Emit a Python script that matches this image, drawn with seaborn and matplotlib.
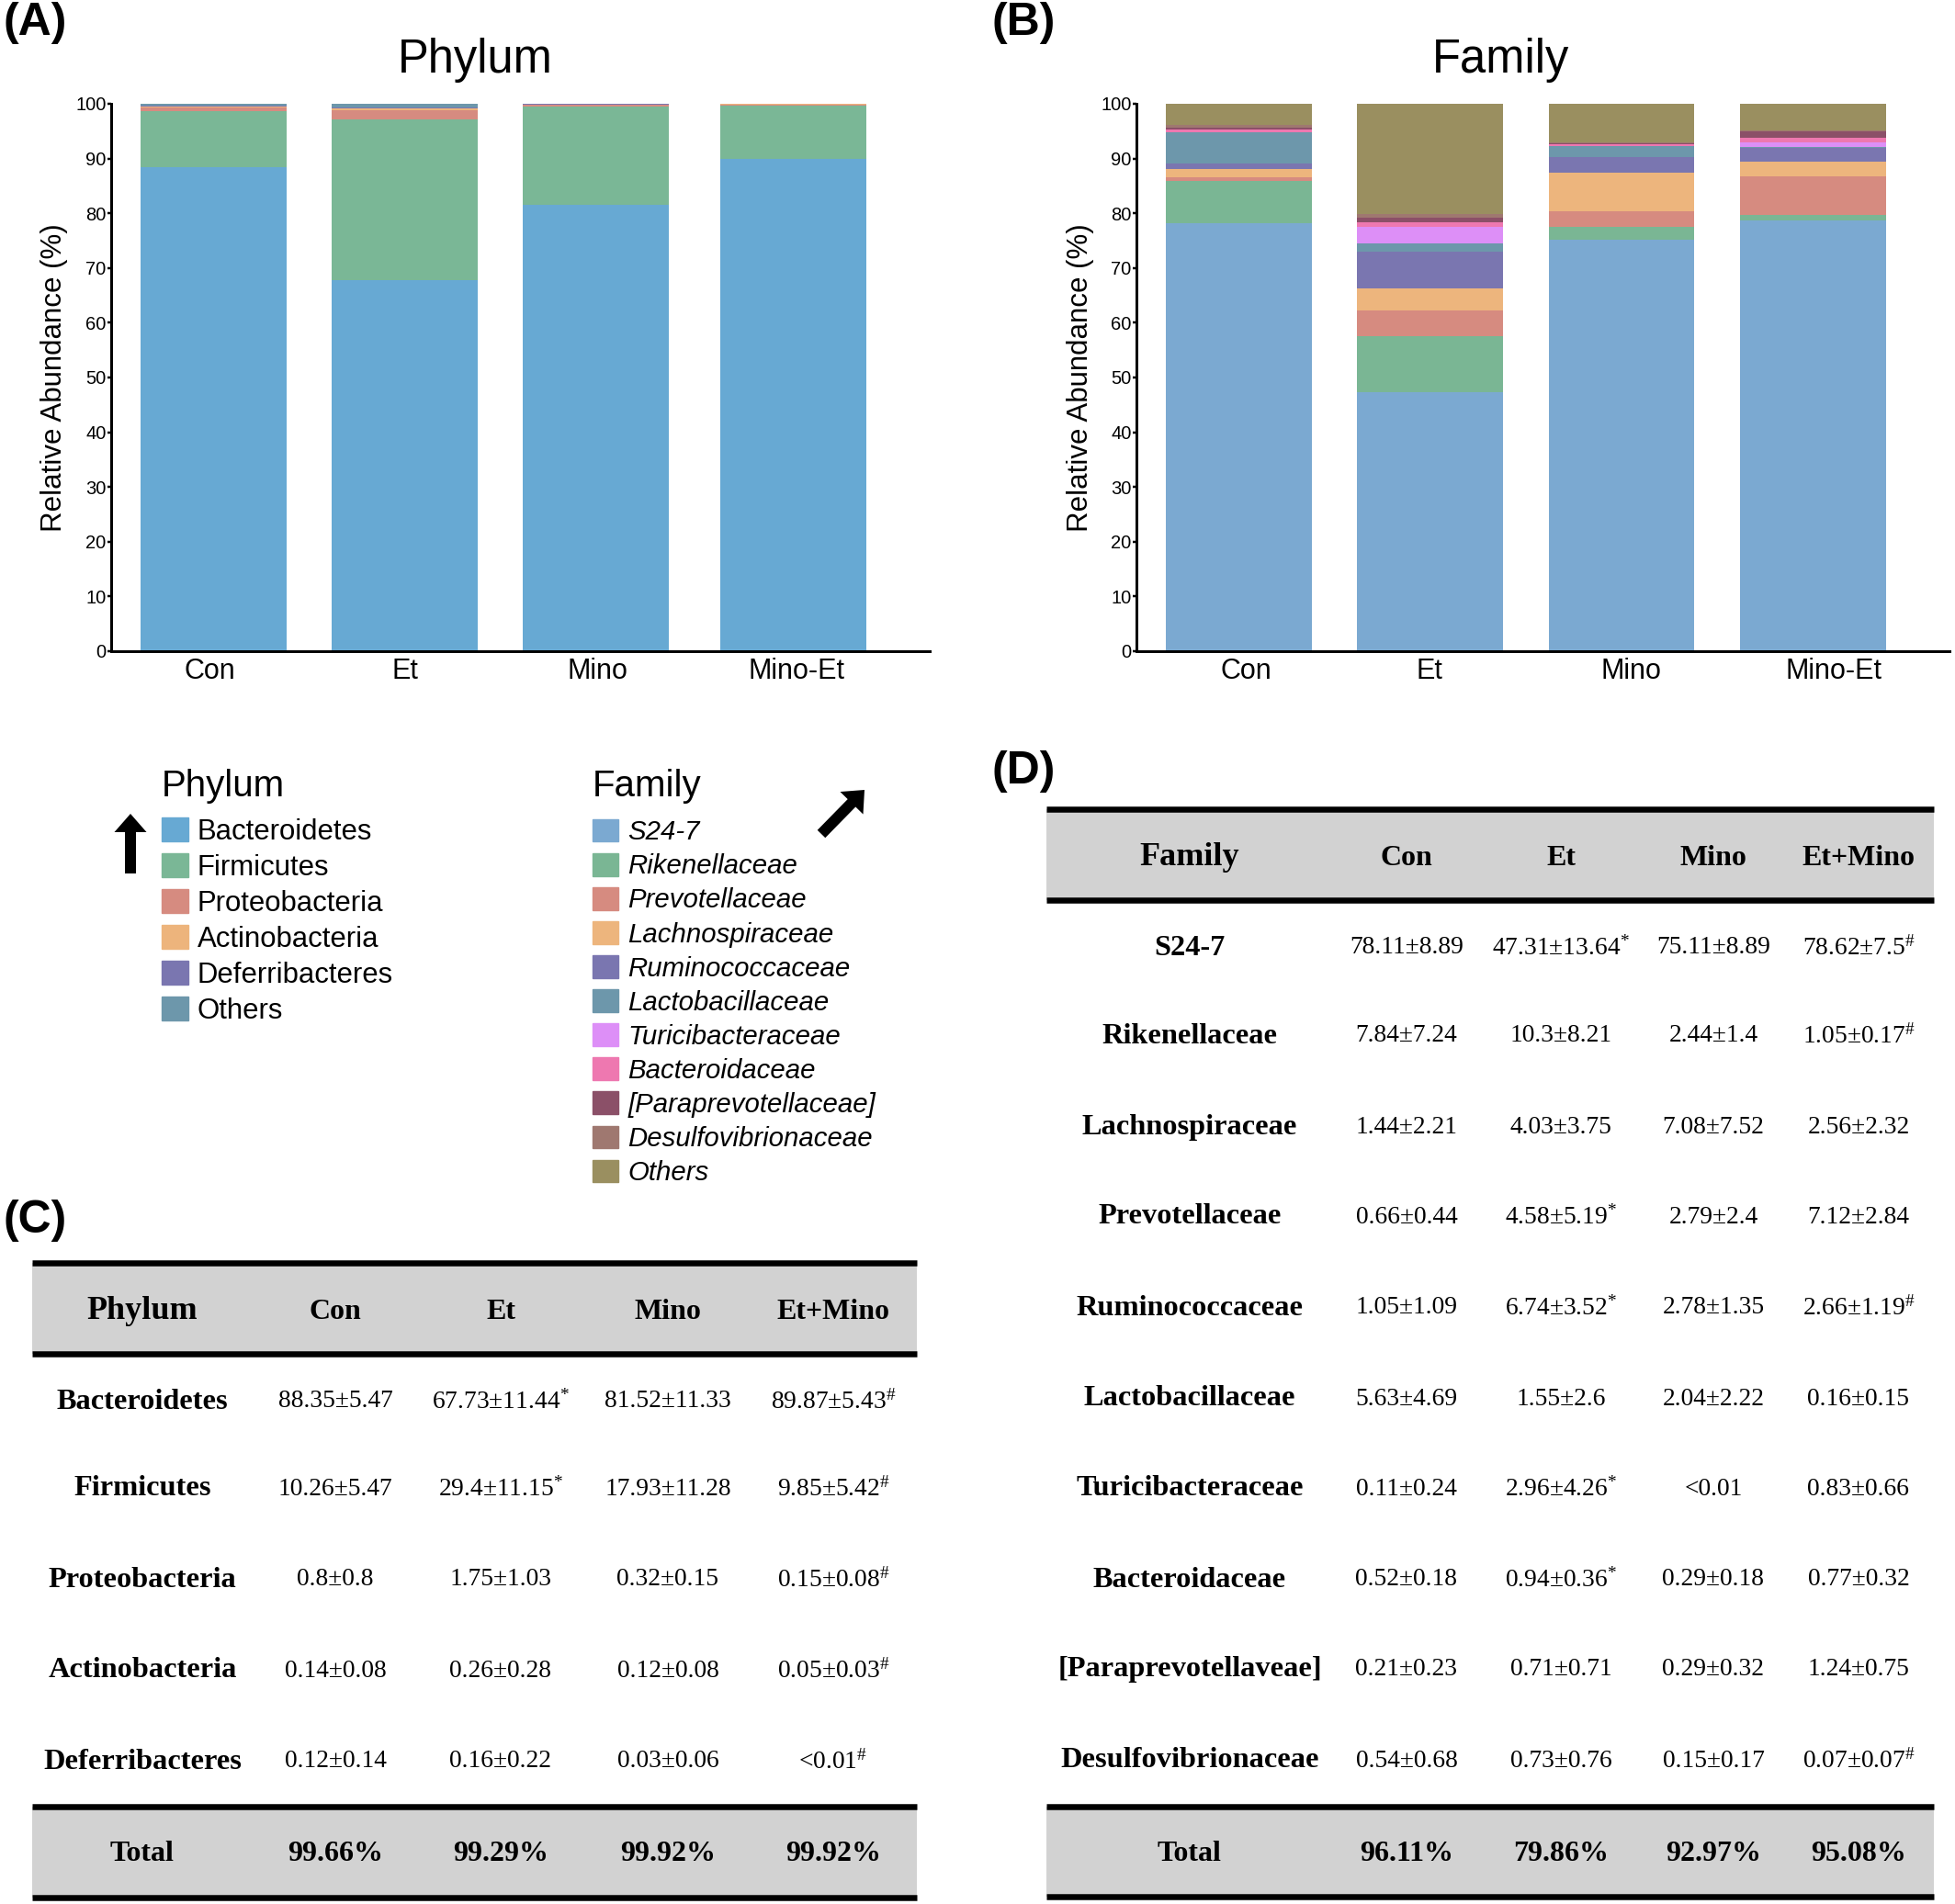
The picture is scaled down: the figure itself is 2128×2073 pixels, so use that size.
"""Phylum and family abundance: stacked bars, legends and the two summary tables."""

import matplotlib
matplotlib.use("Agg")
import matplotlib.pyplot as plt
import numpy as np
import seaborn as sns
from matplotlib.patches import Patch

W, H = 2128, 2073

# Bar groups
groups = ["Con", "Et", "Mino", "Mino-Et"]

# Phylum values (%)
phylum_names = ["Bacteroidetes", "Firmicutes", "Proteobacteria", "Actinobacteria", "Deferribacteres", "Others"]
bacteroidetes = [88.35, 67.73, 81.52, 89.87]
firmicutes = [10.26, 29.40, 17.93, 9.85]
proteobacteria = [0.80, 1.75, 0.32, 0.15]
actinobacteria = [0.14, 0.26, 0.12, 0.05]
deferribacteres = [0.12, 0.16, 0.03, 0.01]
phylum_others = [0.33, 0.70, 0.08, 0.07]
phylum_colors = ["#67A9D3", "#7AB796", "#D68B80", "#EDB47C", "#7A76B0", "#6D97AB"]

# Family values (%)
family_names = ["S24-7", "Rikenellaceae", "Prevotellaceae", "Lachnospiraceae", "Ruminococcaceae",
                "Lactobacillaceae", "Turicibacteraceae", "Bacteroidaceae", "[Paraprevotellaceae]",
                "Desulfovibrionaceae", "Others"]
s24_7 = [78.11, 47.31, 75.11, 78.62]
rikenellaceae = [7.84, 10.30, 2.44, 1.05]
prevotellaceae = [0.66, 4.58, 2.79, 7.12]
lachnospiraceae = [1.44, 4.03, 7.08, 2.56]
ruminococcaceae = [1.05, 6.74, 2.78, 2.66]
lactobacillaceae = [5.63, 1.55, 2.04, 0.16]
turicibacteraceae = [0.11, 2.96, 0.01, 0.83]
bacteroidaceae = [0.52, 0.94, 0.29, 0.77]
paraprevotellaceae = [0.21, 0.71, 0.29, 1.24]
desulfovibrionaceae = [0.54, 0.73, 0.15, 0.07]
family_others = [3.89, 20.14, 7.03, 4.92]
family_colors = ["#7BA9D1", "#7AB694", "#D68B80", "#EDB57D", "#7A76B0", "#6D97AB",
                 "#DD8FF7", "#EE78B0", "#8B5068", "#9F7870", "#9A8F60"]

# Table C
table_c_head = ["Phylum", "Con", "Et", "Mino", "Et+Mino"]
table_c_rows = ["Bacteroidetes", "Firmicutes", "Proteobacteria", "Actinobacteria", "Deferribacteres"]
table_c_con = ["88.35±5.47", "10.26±5.47", "0.8±0.8", "0.14±0.08", "0.12±0.14"]
table_c_et = ["67.73±11.44*", "29.4±11.15*", "1.75±1.03", "0.26±0.28", "0.16±0.22"]
table_c_mino = ["81.52±11.33", "17.93±11.28", "0.32±0.15", "0.12±0.08", "0.03±0.06"]
table_c_etmino = ["89.87±5.43#", "9.85±5.42#", "0.15±0.08#", "0.05±0.03#", "<0.01#"]
table_c_total = ["Total", "99.66%", "99.29%", "99.92%", "99.92%"]

# Table D
table_d_head = ["Family", "Con", "Et", "Mino", "Et+Mino"]
table_d_rows = ["S24-7", "Rikenellaceae", "Lachnospiraceae", "Prevotellaceae", "Ruminococcaceae",
                "Lactobacillaceae", "Turicibacteraceae", "Bacteroidaceae", "[Paraprevotellaveae]",
                "Desulfovibrionaceae"]
table_d_con = ["78.11±8.89", "7.84±7.24", "1.44±2.21", "0.66±0.44", "1.05±1.09",
               "5.63±4.69", "0.11±0.24", "0.52±0.18", "0.21±0.23", "0.54±0.68"]
table_d_et = ["47.31±13.64*", "10.3±8.21", "4.03±3.75", "4.58±5.19*", "6.74±3.52*",
              "1.55±2.6", "2.96±4.26*", "0.94±0.36*", "0.71±0.71", "0.73±0.76"]
table_d_mino = ["75.11±8.89", "2.44±1.4", "7.08±7.52", "2.79±2.4", "2.78±1.35",
                "2.04±2.22", "<0.01", "0.29±0.18", "0.29±0.32", "0.15±0.17"]
table_d_etmino = ["78.62±7.5#", "1.05±0.17#", "2.56±2.32", "7.12±2.84", "2.66±1.19#",
                  "0.16±0.15", "0.83±0.66", "0.77±0.32", "1.24±0.75", "0.07±0.07#"]
table_d_total = ["Total", "96.11%", "79.86%", "92.97%", "95.08%"]

sns.set_style("white")
plt.rcParams["font.family"] = ["Liberation Sans", "DejaVu Sans"]
plt.rcParams["text.color"] = "black"
plt.rcParams["axes.labelcolor"] = "black"
plt.rcParams["mathtext.fontset"] = "custom"
plt.rcParams["mathtext.rm"] = "Liberation Serif"
plt.rcParams["mathtext.default"] = "regular"


def px(v):
    # pixels to points at dpi 100
    return v * 0.72


def add_axes_px(fig, left, top, right, bottom):
    return fig.add_axes([left / W, 1 - bottom / H, (right - left) / W, (bottom - top) / H])


def stacked_panel(ax, series, colors, bar_x, label_x, xlim, labelpad):
    bottoms = np.zeros(len(groups))
    for vals, col in zip(series, colors):
        sns.barplot(x=bar_x, y=vals, bottom=bottoms, color=col, saturation=1, width=0.764,
                    native_scale=True, errorbar=None, linewidth=0, ax=ax)
        bottoms += np.array(vals)
    ax.set_xlim(*xlim)
    ax.set_ylim(0, 100)
    ax.set_yticks(np.arange(0, 101, 10))
    ax.set_xticks(label_x)
    ax.set_xticklabels(groups, fontsize=22)
    ax.tick_params(axis="x", length=0, pad=5, colors="black")
    ax.tick_params(axis="y", left=True, length=px(4), width=px(2.5), labelsize=14.5, pad=1, colors="black")
    ax.set_ylabel("Relative Abundance (%)", fontsize=22.5, labelpad=labelpad)
    ax.set_xlabel("")
    sns.despine(ax=ax)
    for s in ["left", "bottom"]:
        ax.spines[s].set_linewidth(px(3))
        ax.spines[s].set_color("black")
    ax.patch.set_alpha(0)


def draw_table(page, left, right, lines, head, head_y, rows, row_y, columns, col_x, total, total_y, head_sizes):
    # grey bands first, the black rules go on top
    page.fill_between([left, right], lines[0], lines[1], color="#D2D2D2", lw=0)
    page.fill_between([left, right], lines[2], lines[3], color="#D2D2D2", lw=0)
    page.hlines(lines, left, right, colors="black", lw=px(6.5))
    serif = ["Liberation Serif", "DejaVu Serif"]

    for i, (name, x) in enumerate(zip(head, col_x)):
        page.text(x, head_y, name, ha="center", va="center", family=serif, weight="bold",
                  fontsize=head_sizes[0] if i == 0 else head_sizes[1])
    for name, y in zip(rows, row_y):
        page.text(col_x[0], y, name, ha="center", va="center", family=serif, weight="bold", fontsize=23.3)
    for col, x in zip(columns, col_x[1:]):
        for cell, y in zip(col, row_y):
            if cell[-1] == "#":
                cell = cell[:-1] + r"$^{\#}$"
            elif cell[-1] == "*":
                cell = cell[:-1] + r"$^{*}$"
            page.text(x, y, cell, ha="center", va="center", family=serif, fontsize=19.8)
    for name, x in zip(total, col_x):
        page.text(x, total_y, name, ha="center", va="center", family=serif, weight="bold", fontsize=23)


fig = plt.figure(figsize=(W / 100, H / 100), dpi=100, facecolor="white")

# full page layer in pixel coordinates for tables, arrows and panel letters
page = fig.add_axes([0, 0, 1, 1])
page.set_xlim(0, W)
page.set_ylim(H, 0)
page.axis("off")

ax_a = add_axes_px(fig, 121, 113, 1012, 709)
stacked_panel(ax_a, [bacteroidetes, firmicutes, proteobacteria, actinobacteria, deferribacteres, phylum_others],
              phylum_colors, [0, 1, 2, 3.034], [-0.018, 1.0, 2.01, 3.05], (-0.536, 3.747), 6)
ax_b = add_axes_px(fig, 1237, 113, 2122, 709)
stacked_panel(ax_b, [s24_7, rikenellaceae, prevotellaceae, lachnospiraceae, ruminococcaceae, lactobacillaceae,
                     turicibacteraceae, bacteroidaceae, paraprevotellaceae, desulfovibrionaceae, family_others],
              family_colors, [0, 1, 2, 3], [0.036, 0.994, 2.05, 3.11], (-0.538, 3.716), 5)

page.text(517, 65, "Phylum", ha="center", va="center", fontsize=36.5)
page.text(1634, 65, "Family", ha="center", va="center", fontsize=36.5)

for letter, x, y in [("(A)", 3, 25), ("(B)", 1079, 25), ("(C)", 3, 1329), ("(D)", 1079, 840)]:
    page.text(x, y, letter, ha="left", va="center", fontsize=36, weight="bold")

# Legends
leg_p = fig.legend(handles=[Patch(color=c, label=n) for c, n in zip(phylum_colors, phylum_names)],
                   loc="upper left", bbox_to_anchor=(176 / W, 1 - 837 / H), frameon=False, borderpad=0,
                   borderaxespad=0, title="Phylum", title_fontproperties={"size": 29}, alignment="left",
                   fontsize=22.4, handlelength=0.93, handleheight=0.9, handletextpad=0.31, labelspacing=0.27)
leg_p._legend_box.sep = 11
leg_f = fig.legend(handles=[Patch(color=c, label=n) for c, n in zip(family_colors, family_names)],
                   loc="upper left", bbox_to_anchor=(645 / W, 1 - 837 / H), frameon=False, borderpad=0,
                   borderaxespad=0, title="Family", title_fontproperties={"size": 29}, alignment="left",
                   prop={"size": 21.2, "style": "italic"},
                   handlelength=0.95, handleheight=0.92, handletextpad=0.36, labelspacing=0.29)
leg_f._legend_box.sep = 12

# Arrows next to the legends
arrow = dict(facecolor="black", edgecolor="none", width=px(12), headwidth=px(35), headlength=px(20), shrink=0)
page.annotate("", xy=(142, 886), xytext=(142, 951), arrowprops=arrow)
page.annotate("", xy=(941, 860), xytext=(894, 908), arrowprops=arrow)

# Tables
draw_table(page, 35, 998, [1375, 1474, 1967, 2066], table_c_head, 1428, table_c_rows,
           [1526, 1621, 1720, 1819, 1918],
           [table_c_con, table_c_et, table_c_mino, table_c_etmino],
           [155, 365, 545, 727, 907], table_c_total, 2019, (26, 23))
draw_table(page, 1139, 2105, [881, 980, 1967, 2065], table_d_head, 934, table_d_rows,
           [1032, 1128, 1227, 1325, 1424, 1523, 1621, 1720, 1817, 1917],
           [table_d_con, table_d_et, table_d_mino, table_d_etmino],
           [1295, 1531, 1699, 1865, 2023], table_d_total, 2019, (26, 23))

fig.savefig("out.png", dpi=100, facecolor="white")
plt.close(fig)
